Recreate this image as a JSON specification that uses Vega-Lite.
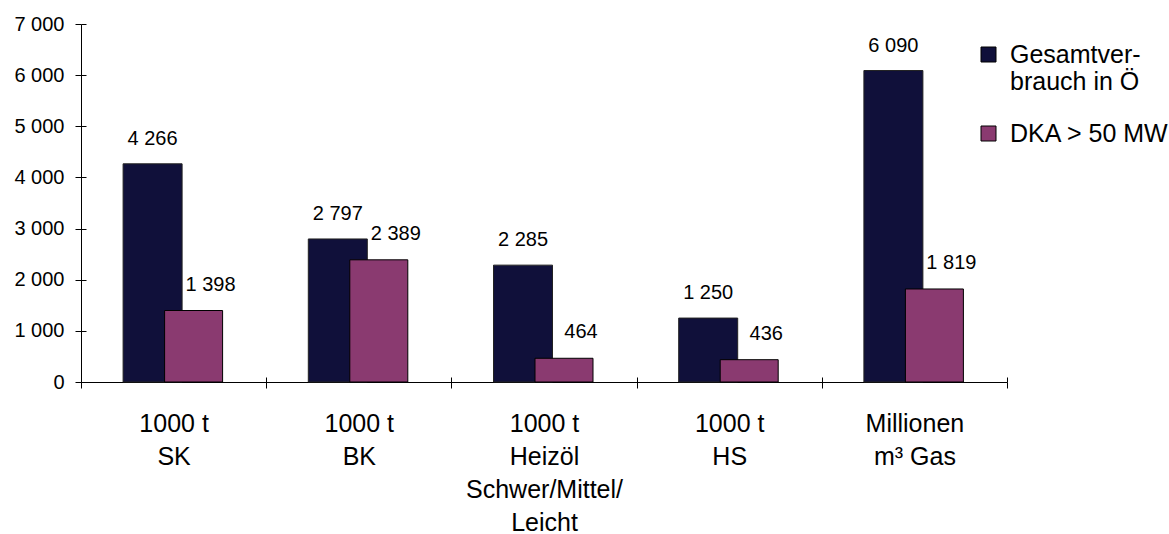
{
  "$schema": "https://vega.github.io/schema/vega-lite/v6.json",
  "width": 926,
  "height": 358,
  "autosize": "none",
  "padding": {"left": 81, "top": 24, "right": 162, "bottom": 152},
  "background": "white",
  "config": {
    "view": {"stroke": null},
    "font": "Liberation Sans",
    "locale": {"number": {"decimal": ",", "thousands": " ", "grouping": [3], "currency": ["", " €"]}},
    "axis": {"labelFont": "Liberation Sans", "labelColor": "black", "domainColor": "black", "tickColor": "black", "grid": false}
  },
  "data": {
    "values": [
      {"cat": "1000 t|SK", "serie": "Gesamtver-|brauch in Ö", "value": 4266},
      {"cat": "1000 t|SK", "serie": "DKA > 50 MW", "value": 1398},
      {"cat": "1000 t|BK", "serie": "Gesamtver-|brauch in Ö", "value": 2797},
      {"cat": "1000 t|BK", "serie": "DKA > 50 MW", "value": 2389},
      {"cat": "1000 t|Heizöl|Schwer/Mittel/|Leicht", "serie": "Gesamtver-|brauch in Ö", "value": 2285},
      {"cat": "1000 t|Heizöl|Schwer/Mittel/|Leicht", "serie": "DKA > 50 MW", "value": 464},
      {"cat": "1000 t|HS", "serie": "Gesamtver-|brauch in Ö", "value": 1250},
      {"cat": "1000 t|HS", "serie": "DKA > 50 MW", "value": 436},
      {"cat": "Millionen|m³ Gas", "serie": "Gesamtver-|brauch in Ö", "value": 6090},
      {"cat": "Millionen|m³ Gas", "serie": "DKA > 50 MW", "value": 1819}
    ]
  },
  "encoding": {
    "x": {
      "field": "cat", "type": "nominal", "sort": null,
      "scale": {"paddingInner": 0, "paddingOuter": 0},
      "axis": {
        "title": null, "labelAngle": 0, "labelFontSize": 25, "labelLineHeight": 33,
        "labelExpr": "split(datum.label, '|')", "tickBand": "extent", "tickSize": 6,
        "labelPadding": 23, "labelBaseline": "top", "domainWidth": 1, "tickWidth": 1, "orient": "bottom"
      }
    },
    "y": {
      "field": "value", "type": "quantitative",
      "scale": {"domain": [0, 7000], "nice": false},
      "axis": {
        "title": null, "values": [0, 1000, 2000, 3000, 4000, 5000, 6000, 7000],
        "labelExpr": "format(datum.value, ',')", "labelFontSize": 20, "tickSize": 6, "labelPadding": 11, "orient": "left"
      }
    }
  },
  "resolve": {"axis": {"y": "independent", "x": "independent"}},
  "layer": [
    {
      "transform": [{"filter": "datum.serie == 'Gesamtver-|brauch in Ö'"}],
      "mark": {"type": "bar", "width": 59, "xOffset": -21, "stroke": "#222222", "strokeWidth": 1},
      "encoding": {
        "color": {
          "field": "serie", "type": "nominal",
          "scale": {"domain": ["Gesamtver-|brauch in Ö", "DKA > 50 MW"], "range": ["#10103a", "#8a3a70"]},
          "legend": {
            "title": null, "orient": "none", "legendX": 895, "legendY": 6, "padding": 0,
            "labelExpr": "split(datum.label, '|')", "labelFontSize": 25, "labelFont": "Liberation Sans",
            "labelColor": "black", "symbolType": "M-1,0.6H1V2.6H-1Z", "symbolSize": 225, "symbolStrokeColor": "black",
            "symbolStrokeWidth": 1, "labelBaseline": "top", "rowPadding": 14, "labelOffset": 9,
            "labelLineHeight": 30, "symbolOpacity": 1, "labelLimit": 300
          }
        }
      }
    },
    {
      "transform": [{"filter": "datum.serie == 'DKA > 50 MW'"}],
      "mark": {"type": "bar", "width": 58, "xOffset": 20, "stroke": "black", "strokeWidth": 1},
      "encoding": {
        "color": {"field": "serie", "type": "nominal"},
        "x": {"field": "cat", "type": "nominal", "sort": null,
          "axis": {"title": null, "labels": false, "domain": false, "tickBand": "extent", "tickSize": -5, "tickColor": "black", "orient": "bottom"}},
        "y": {"field": "value", "type": "quantitative",
          "axis": {"title": null, "labels": false, "domain": false, "values": [0, 1000, 2000, 3000, 4000, 5000, 6000, 7000], "tickSize": -5, "tickColor": "black", "orient": "left"}}
      }
    },
    {
      "transform": [{"filter": "datum.serie == 'Gesamtver-|brauch in Ö'"}],
      "mark": {"type": "text", "xOffset": -21, "dy": -25, "fontSize": 20, "color": "black", "baseline": "middle"},
      "encoding": {
        "text": {"field": "value", "type": "quantitative", "format": ","},
        "x": {"field": "cat", "type": "nominal", "sort": null, "axis": null},
        "y": {"field": "value", "type": "quantitative", "axis": null}
      }
    },
    {
      "transform": [{"filter": "datum.serie == 'DKA > 50 MW'"}],
      "mark": {"type": "text", "xOffset": 37, "dy": -26, "fontSize": 20, "color": "black", "baseline": "middle"},
      "encoding": {
        "text": {"field": "value", "type": "quantitative", "format": ","},
        "x": {"field": "cat", "type": "nominal", "sort": null, "axis": null},
        "y": {"field": "value", "type": "quantitative", "axis": null}
      }
    }
  ]
}
